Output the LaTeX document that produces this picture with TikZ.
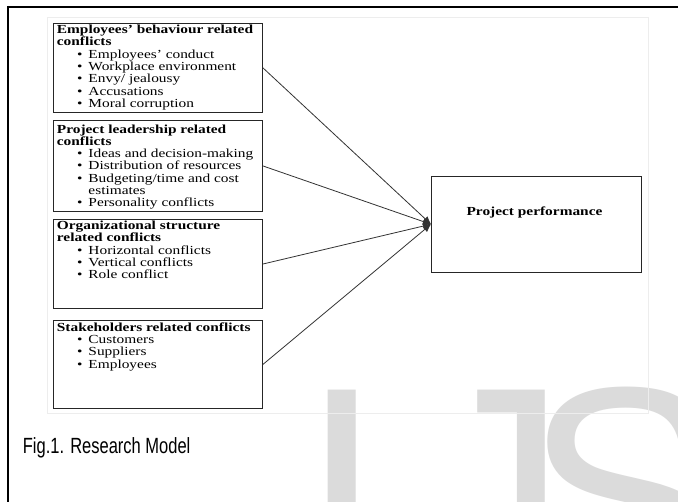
\documentclass[tikz,border=0pt]{standalone}
\usepackage{fontspec}
\setmainfont{Liberation Serif}
\newfontfamily\diafont[FakeStretch=1.25]{Liberation Serif}
\newfontfamily\capfont{Liberation Sans}
\usetikzlibrary{arrows.meta}
\newcommand\bitem[1]{\makebox[31.6pt][l]{\hspace{20.3pt}\textbullet}#1}
\newcommand\bcont[1]{\makebox[31.6pt][l]{}#1}
\tikzset{
  box/.style={draw=black!85, line width=1.1pt, rectangle, inner sep=0pt, anchor=north west, fill=white},
  txt/.style={inner sep=0pt, anchor=north west, align=left,
    font=\diafont\fontsize{12.3}{12.3}\selectfont},
  link/.style={draw=black!80, line width=0.8pt, -{Latex[length=8pt,width=7pt]}},
  wm/.style={inner sep=0pt, anchor=base west, text=black!14,
    font=\capfont\fontsize{300}{300}\selectfont},
}
\begin{document}
\begin{tikzpicture}[x=1pt,y=-1pt]
\useasboundingbox (0,0) rectangle (678,502);
\fill[white] (0,0) rectangle (678,502);
% watermark
\begin{scope}
\clip (0,0) rectangle (678,502);
\node[wm] (wmI) at (300.5,597) {I};
\node[wm] (wmJ) at (417,597) {J};
\node[wm] (wmS) at (524,597) {S};
\end{scope}
% faint frame
\draw[black!7, line width=0.6pt] (47,17) rectangle (648,413);
% outer border
\draw[line width=2pt] (8,6.8) -- (678,6.8);
\draw[line width=2pt] (8,5.8) -- (8,502);
% boxes
\node[box, minimum width=209pt, minimum height=89pt] (b1) at (52.7,22.7) {};
\node[box, minimum width=209pt, minimum height=90.7pt] (b2) at (52.7,120) {};
\node[box, minimum width=209pt, minimum height=88.4pt] (b3) at (52.7,219.3) {};
\node[box, minimum width=209pt, minimum height=88pt] (b4) at (52.7,320) {};
\node[box, minimum width=209.7pt, minimum height=96pt] (b5) at (431,175.7) {};
% texts
\node[txt] (t1) at (56.7,24.9) {\textbf{Employees’ behaviour related}\\\textbf{conflicts}\\
\bitem{Employees’ conduct}\\\bitem{Workplace environment}\\\bitem{Envy/ jealousy}\\
\bitem{Accusations}\\\bitem{Moral corruption}};
\node[txt] (t2) at (56.7,124.3) {\textbf{Project leadership related}\\\textbf{conflicts}\\
\bitem{Ideas and decision-making}\\\bitem{Distribution of resources}\\
\bitem{Budgeting/time and cost}\\\bcont{estimates}\\\bitem{Personality conflicts}};
\node[txt] (t3) at (56.7,220.9) {\textbf{Organizational structure}\\\textbf{related conflicts}\\
\bitem{Horizontal conflicts}\\\bitem{Vertical conflicts}\\\bitem{Role conflict}};
\node[txt] (t4) at (56.7,322.3) {\textbf{Stakeholders related conflicts}\\
\bitem{Customers}\\\bitem{Suppliers}\\\bitem{Employees}};
\node[txt, anchor=base] (t5) at (534.5,215.7) {\textbf{Project performance}};
% links
\draw[link] (b1.east) -- (b5.west);
\draw[link] (b2.east) -- (b5.west);
\draw[link] (b3.east) -- (b5.west);
\draw[link] (b4.east) -- (b5.west);
% caption
\node[inner sep=0pt, anchor=base west, font=\capfont\fontsize{22}{22}\selectfont] (cap) at (22.7,453.3) {\scalebox{0.75}[1]{Fig.1. Research Model}};
\end{tikzpicture}
\end{document}
